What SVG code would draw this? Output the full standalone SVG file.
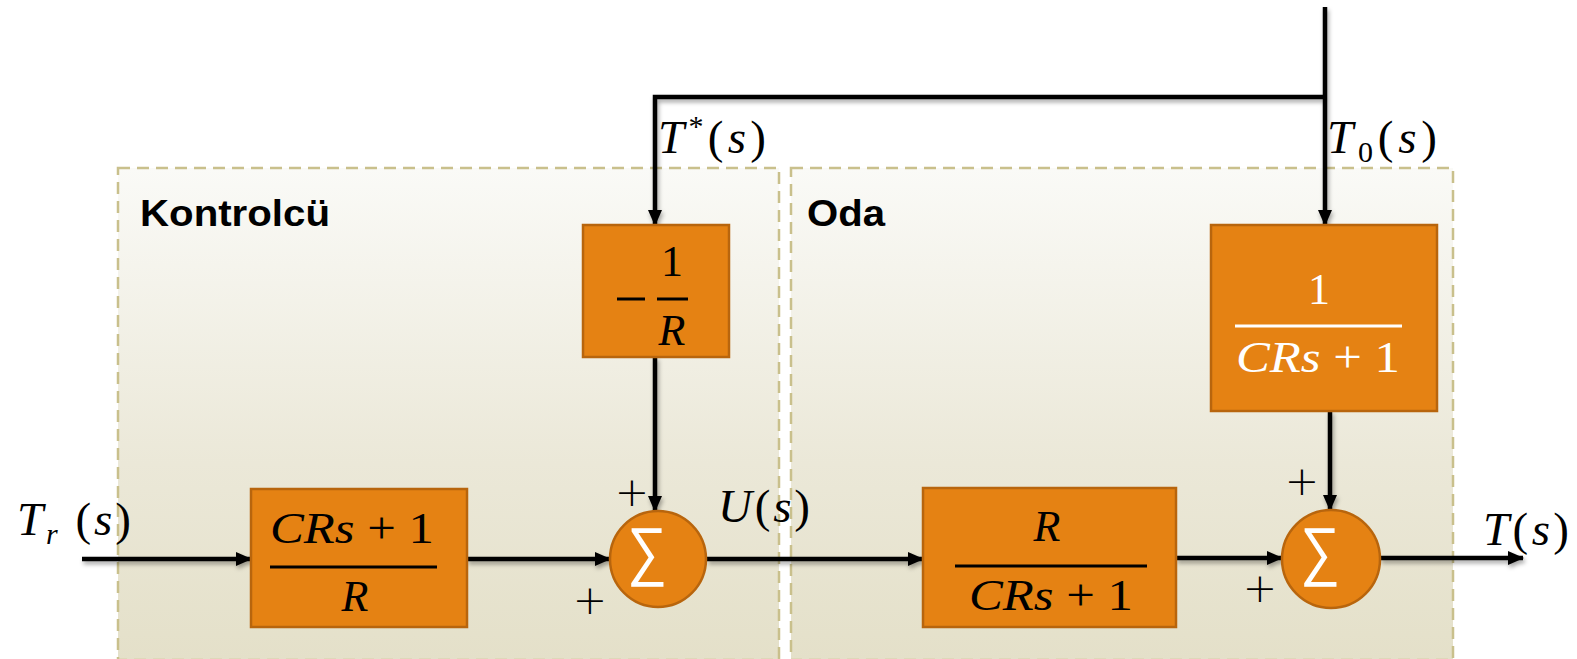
<svg xmlns="http://www.w3.org/2000/svg" width="1577" height="659" viewBox="0 0 1577 659">
  <defs>
    <linearGradient id="panelFill" x1="0" y1="0" x2="0" y2="1">
      <stop offset="0" stop-color="#fafaf7"/>
      <stop offset="0.6" stop-color="#ebe8d8"/>
      <stop offset="1" stop-color="#e4e0c9"/>
    </linearGradient>
    <filter id="shadow" x="-20%" y="-20%" width="140%" height="160%">
      <feDropShadow dx="1.5" dy="3" stdDeviation="2" flood-color="#000" flood-opacity="0.35"/>
    </filter>
    <marker id="arrow" markerWidth="16" markerHeight="14" refX="15" refY="7" orient="auto" markerUnits="userSpaceOnUse">
      <path d="M0,0 L16,7 L0,14 Z" fill="#000"/>
    </marker>
    <style>
      .panel { fill: url(#panelFill); stroke: #c9c08c; stroke-width: 2.5; stroke-dasharray: 12 7; }
      .block { fill: #e58213; stroke: #b8650d; stroke-width: 2.5; }
      .wire { fill: none; stroke: #000; stroke-width: 4.5; }
      .arrowed { marker-end: url(#arrow); }
      .math { font-family: "Liberation Serif", "DejaVu Serif", serif; font-style: italic; font-size: 44px; }
      .lbl { font-size: 47px; }
      .up { font-style: normal; }
      .plus { font-family: "DejaVu Sans", sans-serif; font-weight: 200; font-size: 41px; text-anchor: middle; }
      .title { font-family: "Liberation Sans", Arial, sans-serif; font-weight: bold; font-size: 37px; fill: #000; }
      .sigma { font-family: "DejaVu Sans", sans-serif; font-weight: 200; font-size: 65px; fill: #fff; }
      .frac { stroke-width: 3; }
    </style>
  </defs>

  <!-- dashed grouping panels -->
  <g id="panel-kontrolcu">
    <rect class="panel" x="118" y="168" width="661" height="492"/>
    <text class="title" x="140" y="226" textLength="190" lengthAdjust="spacingAndGlyphs">Kontrolcü</text>
  </g>
  <g id="panel-oda">
    <rect class="panel" x="791" y="168" width="662" height="492"/>
    <text class="title" x="807" y="226" textLength="78" lengthAdjust="spacingAndGlyphs">Oda</text>
  </g>

  <!-- signal lines -->
  <g id="connectors" filter="url(#shadow)">
    <line class="wire arrowed" x1="82" y1="559" x2="251" y2="559"/>
    <line class="wire arrowed" x1="467" y1="559" x2="610" y2="559"/>
    <line class="wire arrowed" x1="707" y1="559" x2="923" y2="559"/>
    <line class="wire arrowed" x1="1176" y1="558" x2="1282" y2="558"/>
    <line class="wire arrowed" x1="1380" y1="558" x2="1523" y2="558"/>
    <polyline class="wire arrowed" points="1325,7 1325,225"/>
    <polyline class="wire arrowed" points="1325,97 655,97 655,225"/>
    <line class="wire arrowed" x1="655" y1="357" x2="655" y2="511"/>
    <line class="wire arrowed" x1="1330" y1="411" x2="1330" y2="510"/>
  </g>

  <!-- (CRs+1)/R -->
  <g id="block-lead">
    <rect class="block" x="251" y="489" width="216" height="138"/>
    <text class="math" x="352" y="543" text-anchor="middle" textLength="164" lengthAdjust="spacingAndGlyphs">CRs<tspan class="up"> + 1</tspan></text>
    <line class="frac" x1="270" y1="567" x2="437" y2="567" stroke="#000"/>
    <text class="math" x="355" y="611" text-anchor="middle">R</text>
  </g>

  <!-- -1/R -->
  <g id="block-neg">
    <rect class="block" x="583" y="225" width="146" height="132"/>
    <line class="frac" x1="617" y1="299" x2="645" y2="299" stroke="#000"/>
    <text class="math up" x="672" y="276" text-anchor="middle">1</text>
    <line class="frac" x1="657" y1="299" x2="688" y2="299" stroke="#000"/>
    <text class="math" x="672" y="345" text-anchor="middle">R</text>
  </g>

  <!-- first summing junction -->
  <g id="sum-controller">
    <circle class="block" cx="658" cy="559" r="48"/>
    <text class="sigma" x="627" y="573" textLength="40" lengthAdjust="spacingAndGlyphs">∑</text>
  </g>

  <!-- R/(CRs+1) -->
  <g id="block-room">
    <rect class="block" x="923" y="488" width="253" height="139"/>
    <text class="math" x="1047" y="541" text-anchor="middle">R</text>
    <line class="frac" x1="955" y1="566" x2="1147" y2="566" stroke="#000"/>
    <text class="math" x="1051" y="610" text-anchor="middle" textLength="164" lengthAdjust="spacingAndGlyphs">CRs<tspan class="up"> + 1</tspan></text>
  </g>

  <!-- 1/(CRs+1) -->
  <g id="block-ambient">
    <rect class="block" x="1211" y="225" width="226" height="186"/>
    <text class="math up" x="1319" y="304" text-anchor="middle" fill="#fff">1</text>
    <line class="frac" x1="1235" y1="326" x2="1402" y2="326" stroke="#fff"/>
    <text class="math" x="1318" y="372" text-anchor="middle" fill="#fff" textLength="164" lengthAdjust="spacingAndGlyphs">CRs<tspan class="up"> + 1</tspan></text>
  </g>

  <!-- second summing junction -->
  <g id="sum-room">
    <circle class="block" cx="1331" cy="559" r="49"/>
    <text class="sigma" x="1300" y="573" textLength="40" lengthAdjust="spacingAndGlyphs">∑</text>
  </g>

  <!-- signal labels -->
  <g id="labels">
    <text class="math lbl" x="17" y="535" textLength="114" lengthAdjust="spacing">T<tspan font-size="30" dy="9">r</tspan><tspan class="up" dy="-9"> (</tspan>s<tspan class="up">)</tspan></text>
    <text class="math lbl" x="658" y="153" textLength="108" lengthAdjust="spacing">T<tspan class="up" font-size="30" dy="-17">*</tspan><tspan class="up" dy="17">(</tspan>s<tspan class="up">)</tspan></text>
    <text class="math lbl" x="1327" y="153" textLength="110" lengthAdjust="spacing">T<tspan class="up" font-size="30" dy="9">0</tspan><tspan class="up" dy="-9">(</tspan>s<tspan class="up">)</tspan></text>
    <text class="math lbl" x="718" y="522" textLength="92" lengthAdjust="spacing">U<tspan class="up">(</tspan>s<tspan class="up">)</tspan></text>
    <text class="math lbl" x="1483" y="545" textLength="86" lengthAdjust="spacing">T<tspan class="up">(</tspan>s<tspan class="up">)</tspan></text>
    <text class="plus" x="632" y="506">+</text>
    <text class="plus" x="590" y="614">+</text>
    <text class="plus" x="1302" y="495">+</text>
    <text class="plus" x="1260" y="602">+</text>
  </g>
</svg>
